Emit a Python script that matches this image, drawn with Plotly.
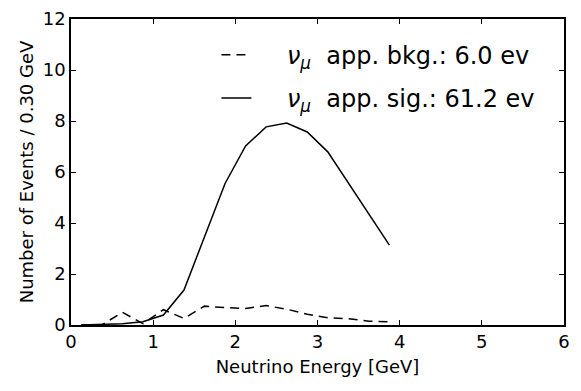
import plotly.graph_objects as go

energy = [0.125, 0.375, 0.625, 0.875, 1.125, 1.375, 1.625, 1.875, 2.125, 2.375, 2.625, 2.875, 3.125, 3.375, 3.625, 3.875]
bkg = [0.0, 0.0, 0.5, 0.05, 0.6, 0.26, 0.74, 0.68, 0.65, 0.76, 0.62, 0.42, 0.28, 0.25, 0.15, 0.12]
sig = [0.0, 0.02, 0.05, 0.13, 0.39, 1.37, 3.45, 5.55, 7.02, 7.77, 7.92, 7.57, 6.79, 5.57, 4.35, 3.13]
bkg_name = "\u00a0\u00a0\u00a0\u00a0<i>ν</i><sub><i>μ</i></sub>\u00a0 app. bkg.: 6.0 ev"
sig_name = "\u00a0\u00a0\u00a0\u00a0<i>ν</i><sub><i>μ</i></sub>\u00a0 app. sig.: 61.2 ev"

FONT = "DejaVu Sans"

fig = go.Figure()
fig.add_trace(go.Scatter(x=energy, y=bkg, mode="lines", name=bkg_name, legendgroup="a",
                         line=dict(color="black", width=1.5, dash="9px,6px")))
fig.add_trace(go.Scatter(x=energy, y=sig, mode="lines", name=sig_name, legendgroup="b",
                         line=dict(color="black", width=1.5)))

axis_common = dict(showline=True, linecolor="black", linewidth=1.5, mirror="ticks",
                   ticks="inside", ticklen=5, tickwidth=1, tickcolor="black",
                   showgrid=False, zeroline=False, automargin=False,
                   tickfont=dict(family=FONT, size=18, color="black"))

# page body has an 8px default margin; compensate so the plot lands where the reference has it
fig.update_layout(
    width=573, height=383,
    margin=dict(l=63, r=17, t=11, b=66, autoexpand=False),
    plot_bgcolor="white", paper_bgcolor="white",
    font=dict(family=FONT, color="black"),
    xaxis=dict(range=[0, 6], dtick=1, title=dict(text="Neutrino Energy [GeV]", font=dict(size=18), standoff=9), **axis_common),
    yaxis=dict(range=[0, 12], dtick=2, title=dict(text="Number of Events / 0.30 GeV", font=dict(size=18), standoff=4), **axis_common),
    legend=dict(x=0.295, y=0.955, xanchor="left", yanchor="top", bgcolor="rgba(0,0,0,0)",
                font=dict(family=FONT, size=24), tracegroupgap=9),
    showlegend=True,
)

fig.write_html("out.html")
